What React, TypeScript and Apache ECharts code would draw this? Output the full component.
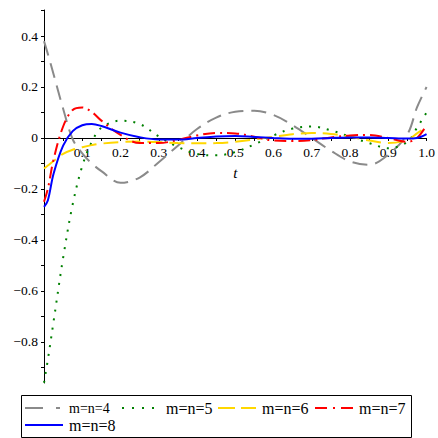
import React, { useEffect, useRef } from "react";
import * as echarts from "echarts";

const tValues = [0, 0.01, 0.025, 0.05, 0.075, 0.1, 0.125, 0.15, 0.2, 0.25, 0.3, 0.35, 0.4, 0.45, 0.5, 0.55, 0.6, 0.65, 0.7, 0.75, 0.8, 0.85, 0.9, 0.95, 0.975, 1.0];

const seriesNames = ["m=n=4", "m=n=5", "m=n=6", "m=n=7", "m=n=8"];

const mn4 = [0.38, 0.33, 0.25, 0.115, -0.005, -0.06, -0.1, -0.13, -0.176, -0.155, -0.095, -0.03, 0.035, 0.08, 0.103, 0.107, 0.09, 0.05, 0.0, -0.05, -0.092, -0.105, -0.065, 0.015, 0.12, 0.2];
const mn5 = [-0.96, -0.87, -0.72, -0.47, -0.26, -0.11, -0.015, 0.04, 0.068, 0.055, 0.006, -0.035, -0.063, -0.068, -0.055, -0.025, 0.01, 0.037, 0.045, 0.03, 0.005, -0.02, -0.04, -0.015, 0.04, 0.1];
const mn6 = [-0.12, -0.108, -0.09, -0.062, -0.046, -0.036, -0.028, -0.022, -0.016, -0.014, -0.016, -0.02, -0.021, -0.02, -0.015, -0.006, 0.005, 0.015, 0.02, 0.016, 0.005, -0.01, -0.02, -0.008, 0.018, 0.045];
const mn7 = [-0.25, -0.2, -0.085, 0.045, 0.11, 0.12, 0.102, 0.068, 0.012, -0.02, -0.02, -0.008, 0.01, 0.02, 0.018, 0.005, -0.01, -0.012, -0.008, 0.002, 0.01, 0.012, 0.0, -0.015, 0.0, 0.05];
const mn8 = [-0.27, -0.245, -0.14, -0.03, 0.027, 0.05, 0.055, 0.047, 0.021, 0.003, -0.006, -0.006, 0.0, 0.006, 0.008, 0.004, 0.0, -0.003, -0.003, 0.0, 0.002, 0.002, 0.0, -0.002, 0.0, 0.015];

const xLabelValues = [0.1, 0.2, 0.3, 0.4, 0.5, 0.6, 0.7, 0.8, 0.9, 1.0];
const xTickValues = [0.05, 0.1, 0.15, 0.2, 0.25, 0.3, 0.35, 0.4, 0.45, 0.5, 0.55, 0.6, 0.65, 0.7, 0.75, 0.8, 0.85, 0.9, 0.95, 1.0];
const yLabelValues = [-0.8, -0.6, -0.4, -0.2, 0, 0.2, 0.4];
const yTickValues = [-0.9, -0.8, -0.7, -0.6, -0.5, -0.4, -0.3, -0.2, -0.1, 0, 0.1, 0.2, 0.3, 0.4, 0.5];

const colors = ["#8a8a8a", "#008000", "#FFD700", "#FF0000", "#0000FF"];
const dashes: any[] = [[15, 8], [2, 7], [15, 7], [12, 5, 2, 5], "solid"];
const legendDashes: any[] = [[18, 13, 4, 10], [2, 8], [17, 6], [12, 6, 2, 6], null];
const allValues = [mn4, mn5, mn6, mn7, mn8];

const FONT = "'Liberation Serif', 'Times New Roman', serif";

const Y_MIN = -0.961;
const Y_MAX = 0.502;
const GRID_TOP = 10;
const GRID_BOTTOM = 55;
const H = 438;

export default function App() {
  const ref = useRef<HTMLDivElement>(null);
  useEffect(() => {
    if (!ref.current) return;
    const chart = echarts.init(ref.current, null, { renderer: "svg" });
    const series = seriesNames.map((name, i) => ({
      name,
      type: "line",
      data: tValues.map((t, k) => [t, allValues[i][k]]),
      smooth: 0.35,
      showSymbol: false,
      symbol: "none",
      lineStyle: { color: colors[i], width: 2, type: dashes[i] },
      itemStyle: { color: colors[i] },
      z: 2 + i,
    }));
    const gridH = H - GRID_TOP - GRID_BOTTOM;
    const zeroOffset = -(gridH * (0 - Y_MIN)) / (Y_MAX - Y_MIN);

    const legendRows = [408, 425];
    const legendCols = [25, 122, 218, 315];
    const legendGraphics: any[] = [
      {
        type: "rect",
        shape: { x: 21.5, y: 395.5, width: 390, height: 42 },
        style: { fill: "#fff", stroke: "#000", lineWidth: 1 },
        silent: true,
        z: 10,
      },
    ];
    seriesNames.forEach((name, i) => {
      const row = i < 4 ? 0 : 1;
      const col = i < 4 ? i : 0;
      const x0 = legendCols[col];
      const y0 = legendRows[row];
      legendGraphics.push({
        type: "line",
        shape: { x1: x0, y1: y0, x2: x0 + 38, y2: y0 },
        style: { stroke: colors[i], lineWidth: 2, lineDash: legendDashes[i] || undefined },
        silent: true,
        z: 11,
      });
      legendGraphics.push({
        type: "text",
        x: x0 + 44,
        y: y0,
        style: {
          text: name,
          fill: "#000",
          font: `${i === 0 ? 14 : 16}px 'Liberation Serif', serif`,
          verticalAlign: "middle",
          align: "left",
        },
        silent: true,
        z: 11,
      });
    });

    chart.setOption({
      animation: false,
      textStyle: { fontFamily: FONT },
      grid: { left: 44, right: 10, top: GRID_TOP, bottom: GRID_BOTTOM, containLabel: false },
      xAxis: {
        type: "value",
        min: 0,
        max: 1,
        offset: zeroOffset,
        name: "t",
        nameLocation: "middle",
        nameGap: 28,
        nameTextStyle: { fontFamily: FONT, fontSize: 15, fontStyle: "italic", color: "#000" },
        axisLine: { onZero: false, lineStyle: { color: "#000", width: 1 } },
        axisTick: { show: true, length: 3, customValues: xTickValues, lineStyle: { color: "#000" } },
        axisLabel: {
          customValues: xLabelValues,
          formatter: (v: number) => v.toFixed(1),
          fontFamily: FONT,
          fontSize: 13.5,
          color: "#000",
          margin: 8,
        },
        splitLine: { show: false },
      },
      yAxis: {
        type: "value",
        min: Y_MIN,
        max: Y_MAX,
        axisLine: { onZero: false, lineStyle: { color: "#000", width: 1 } },
        axisTick: { show: true, length: 3, customValues: yTickValues, lineStyle: { color: "#000" } },
        axisLabel: {
          customValues: yLabelValues,
          formatter: (v: number) => (v < 0 ? "\u2212" + Math.abs(v).toFixed(1) : v === 0 ? "0" : v.toFixed(1)),
          fontFamily: FONT,
          fontSize: 13.5,
          color: "#000",
          margin: 6,
        },
        splitLine: { show: false },
      },
      graphic: legendGraphics,
      series,
    });
    return () => chart.dispose();
  }, []);
  return <div ref={ref} style={{ width: 438, height: 438, position: "absolute", left: 0, top: 0 }} />;
}
